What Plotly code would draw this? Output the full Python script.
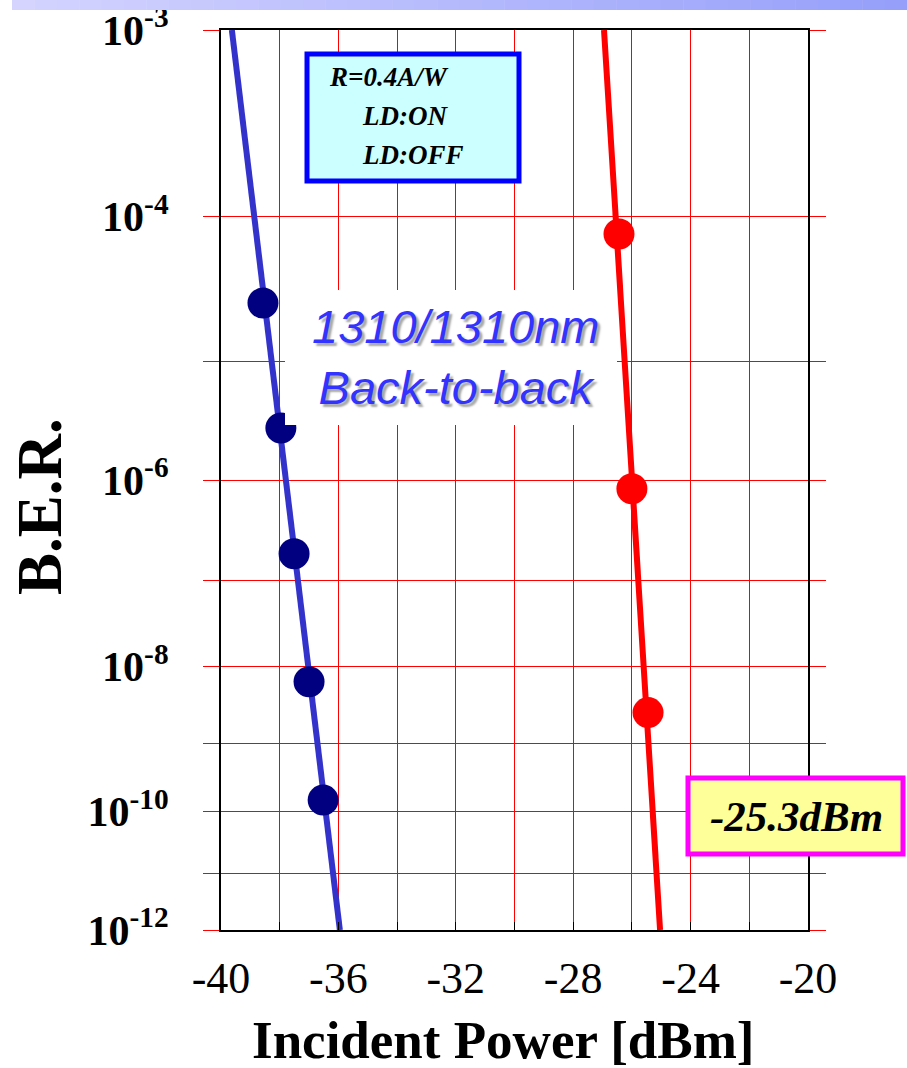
import numpy as np
import plotly.graph_objects as go

# ---- measured data -------------------------------------------------------
# LD:ON / blue series: incident power [dBm] and bit error rate
on_power = [-38.57, -37.96, -37.51, -37.00, -36.52]
on_ber = [2.7e-5, 2.9e-6, 1.9e-7, 6.5e-9, 1.5e-10]
# fitted line for the blue series (end points)
on_fit_power = [-39.63, -35.95]
on_fit_ber = [1e-3, 1e-12]

# LD:OFF / red series
off_power = [-26.44, -26.00, -25.45]
off_ber = [7.8e-5, 8.3e-7, 2.6e-9]
off_fit_power = [-26.95, -25.04]
off_fit_ber = [1e-3, 1e-12]

# axis ticks
x_major = list(range(-40, -19, 4))
x_labels = [str(v) for v in x_major]
x_minor = list(range(-38, -20, 4))
y_major = [3, 4, 6, 8, 10, 12]
y_labels = ["10<sup>-%d</sup>" % e for e in y_major]
y_minor = [5, 7, 9, 11]

sensitivity_text = "-25.3dBm"
legend_lines = ["R=0.4A/W", "LD:ON", "LD:OFF"]
condition_text = "1310/1310nm<br>Back-to-back"

# ---- page geometry --------------------------------------------------------
W, H = 907, 1068
L, R, T, B = 221, 808, 30, 930


def px(x):
    return (x - L) / (R - L)


def py(y):
    return (B - y) / (B - T)


SERIF = "Liberation Serif, Times New Roman, serif"
SANS = "Liberation Sans, Arial, sans-serif"


def q(ber):
    # BER axis: plotted as -log10(BER) on a logarithmic axis
    return [-np.log10(b) for b in ber]


fig = go.Figure()

fig.add_trace(go.Scatter(x=on_fit_power, y=q(on_fit_ber), mode="lines",
                         line=dict(color="#3333cc", width=6), showlegend=False))
fig.add_trace(go.Scatter(x=off_fit_power, y=q(off_fit_ber), mode="lines",
                         line=dict(color="#ff0000", width=6), showlegend=False))
fig.add_trace(go.Scatter(x=on_power, y=q(on_ber), mode="markers",
                         marker=dict(color="#000080", size=31), showlegend=False))
fig.add_trace(go.Scatter(x=off_power, y=q(off_ber), mode="markers",
                         marker=dict(color="#ff0000", size=31), showlegend=False))

shapes = []
# header band across the top of the page
n_band = 40
c0 = np.array([212, 212, 255])
c1 = np.array([150, 160, 250])
x_start, x_end = 12, 907
for i in range(n_band):
    f = i / (n_band - 1)
    c = (c0 + (c1 - c0) * f).astype(int)
    xa = x_start + (x_end - x_start) * i / n_band
    xb = x_start + (x_end - x_start) * (i + 1) / n_band + 0.5
    shapes.append(dict(type="rect", xref="paper", yref="paper",
                       x0=px(xa), x1=px(xb), y0=py(10), y1=py(0),
                       line=dict(width=0), fillcolor="rgb(%d,%d,%d)" % tuple(c),
                       layer="above"))

# white panel behind the condition label
shapes.append(dict(type="rect", xref="paper", yref="paper",
                   x0=px(285), x1=px(617), y0=py(425), y1=py(290),
                   line=dict(width=0), fillcolor="white", layer="above"))
# legend panel
shapes.append(dict(type="rect", xref="paper", yref="paper",
                   x0=px(307), x1=px(519), y0=py(181), y1=py(54),
                   line=dict(color="#0000ff", width=5), fillcolor="#ccffff",
                   layer="above"))
# sensitivity panel
shapes.append(dict(type="rect", xref="paper", yref="paper",
                   x0=px(688), x1=px(903), y0=py(854), y1=py(778),
                   line=dict(color="#ff00ff", width=5), fillcolor="#ffff99",
                   layer="above"))

annotations = []
legend_pos = [(327, 77), (360, 116), (360, 155)]
for text, (ax, ay) in zip(legend_lines, legend_pos):
    annotations.append(dict(text="<b><i>%s</i></b>" % text, xref="paper", yref="paper",
                            x=px(ax), y=py(ay), xanchor="left", yanchor="middle",
                            showarrow=False,
                            font=dict(family=SERIF, size=27, color="black")))

annotations.append(dict(text="<b><i>%s</i></b>" % sensitivity_text, xref="paper", yref="paper",
                        x=px(796), y=py(816), xanchor="center", yanchor="middle",
                        showarrow=False,
                        font=dict(family=SERIF, size=43, color="black")))

annotations.append(dict(text="<i>%s</i>" % condition_text, xref="paper", yref="paper",
                        x=px(455), y=py(357), xanchor="center", yanchor="middle",
                        showarrow=False, align="center",
                        font=dict(family=SANS, size=47, color="#3333ff",
                                  shadow="3px 3px 2px #a8a8a8")))

annotations.append(dict(text="<b>Incident Power [dBm]</b>", xref="paper", yref="paper",
                        x=px(503), y=py(1040), xanchor="center", yanchor="middle",
                        showarrow=False,
                        font=dict(family=SERIF, size=53, color="black")))

annotations.append(dict(text="<b>B.E.R.</b>", xref="paper", yref="paper",
                        x=px(40), y=py(507), xanchor="center", yanchor="middle",
                        textangle=-90, showarrow=False,
                        font=dict(family=SERIF, size=63, color="black")))

fig.update_layout(
    width=W, height=H,
    margin=dict(l=L, r=W - R, t=T, b=H - B, pad=0, autoexpand=False),
    paper_bgcolor="white", plot_bgcolor="white",
    shapes=shapes, annotations=annotations,
    showlegend=False,
)

fig.update_xaxes(
    range=[-40, -20], tickmode="array", tickvals=x_major, ticktext=x_labels,
    showgrid=True, gridcolor="#ff0000", gridwidth=1, zeroline=False,
    showline=True, linecolor="black", linewidth=2, mirror=True,
    ticks="inside", ticklen=8, tickcolor="black", tickwidth=1,
    minor=dict(tickmode="array", tickvals=x_minor, ticks="inside", ticklen=8,
               tickcolor="black", tickwidth=1,
               showgrid=True, gridcolor="#ff0000", gridwidth=1),
    ticklabelstandoff=8, automargin=False,
    tickfont=dict(family=SERIF, size=44, color="black"),
)

fig.update_yaxes(
    type="log", range=[np.log10(12), np.log10(3)],
    tickmode="array", tickvals=y_major, ticktext=y_labels,
    showgrid=True, gridcolor="#ff0000", gridwidth=1, zeroline=False,
    showline=True, linecolor="black", linewidth=2, mirror="allticks",
    ticks="outside", ticklen=16, tickcolor="#ff0000", tickwidth=1,
    minor=dict(tickmode="array", tickvals=y_minor, ticks="outside", ticklen=16,
               tickcolor="#ff0000", tickwidth=1,
               showgrid=True, gridcolor="#ff0000", gridwidth=1),
    ticklabelstandoff=26, automargin=False,
    tickfont=dict(family=SERIF, size=42, color="black", weight="bold"),
)

fig.write_html("out.html")
